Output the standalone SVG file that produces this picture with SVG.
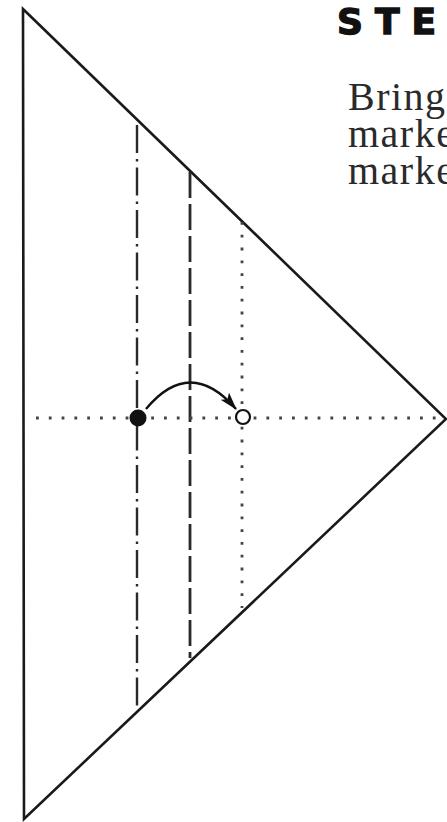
<svg xmlns="http://www.w3.org/2000/svg" width="447" height="822" viewBox="0 0 447 822">
<style>
.edge{fill:none;stroke:#1a1a1a;stroke-width:2.6;stroke-linejoin:miter}
.dashdot{fill:none;stroke:#2a2a2a;stroke-width:2.4;stroke-dasharray:28 6 2.5 6}
.dash{fill:none;stroke:#2a2a2a;stroke-width:2.8;stroke-dasharray:26 6}
.dot{fill:none;stroke:#444;stroke-width:2.8;stroke-dasharray:2.8 10}
.head{font-family:"DejaVu Sans","Liberation Sans",Arial,sans-serif;font-weight:bold;font-size:36px;letter-spacing:12px;fill:#111;stroke:#111;stroke-width:1.4}
.body{font-family:"Liberation Serif","Times New Roman",serif;font-size:40px;letter-spacing:1.5px;fill:#2a2a2a}
</style>
<defs>
<marker id="ah" viewBox="0 0 18 11" refX="17" refY="5.5" markerWidth="18" markerHeight="11" markerUnits="userSpaceOnUse" orient="auto">
<path d="M0,0 L18,5.5 L0,11 L4,5.5 Z" fill="#111"/>
</marker>
</defs>
<g id="text">
<text class="head" x="337" y="34">STE</text>
<text class="body" x="348" y="110">Bring</text>
<text class="body" x="348" y="147">marke</text>
<text class="body" x="348" y="184">marke</text>
</g>
<g id="paper">
<path class="edge" d="M23,9 L446,419 L24,819 Z"/>
</g>
<g id="folds">
<line class="dashdot" x1="137" y1="125" x2="137" y2="708"/>
<line class="dash" x1="190" y1="172" x2="190" y2="658"/>
<line class="dot" x1="242" y1="222" x2="242" y2="608"/>
<line class="dot" x1="36" y1="418" x2="444" y2="418"/>
</g>
<g id="connectors">
<path d="M146,409 Q190,356 236,409" fill="none" stroke="#111" stroke-width="2.4" marker-end="url(#ah)"/>
</g>
<g id="point-start">
<circle cx="138" cy="418" r="8.5" fill="#111"/>
</g>
<g id="point-end">
<circle cx="243" cy="417" r="7" fill="#fff" stroke="#111" stroke-width="2.2"/>
</g>
</svg>
